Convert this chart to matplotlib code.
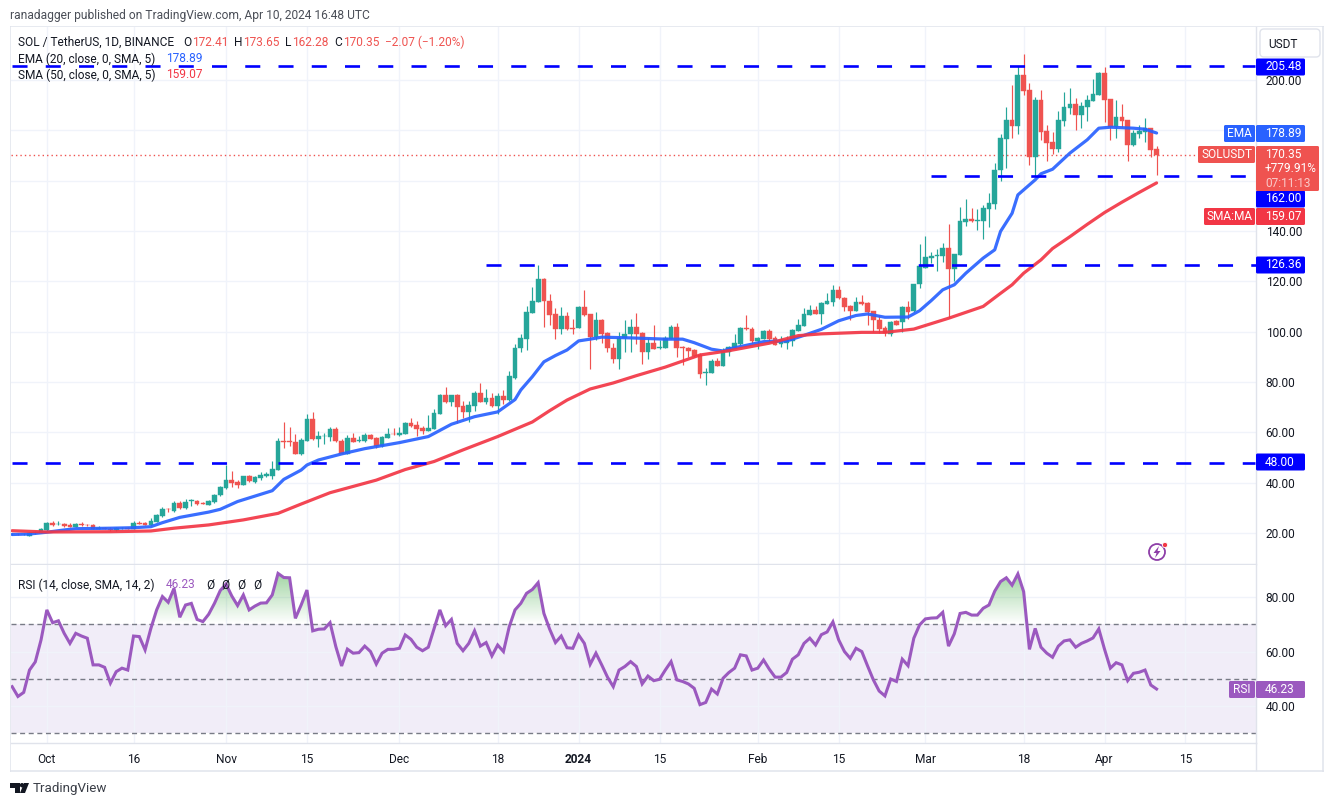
import numpy as np
import pandas as pd
import matplotlib
matplotlib.use('Agg')
import matplotlib.pyplot as plt
from matplotlib.patches import Rectangle, Circle, Polygon, PathPatch, FancyBboxPatch
from matplotlib.path import Path

plt.rcParams['font.family'] = ['Roboto', 'DejaVu Sans']

# Daily candles, Sep 25 2023 .. Apr 10 2024
OPEN = [19.5,19.7,19.4,19.0,19.9,20.1,21.1,24.0,23.4,23.6,
        23.2,22.5,23.5,23.2,23.0,21.6,21.9,21.7,21.0,21.8,
        21.9,21.7,24.0,24.0,23.1,24.5,26.8,29.7,28.7,31.8,
        29.9,32.7,32.7,31.9,31.1,32.3,35.1,37.9,41.1,40.3,
        39.1,42.7,40.4,42.0,42.7,42.7,45.0,56.4,56.4,56.0,
        51.4,56.6,65.3,57.4,58.5,58.3,61.3,56.6,51.5,57.6,
        56.4,56.6,59.0,57.8,54.6,57.9,59.5,59.1,59.5,63.7,
        62.9,61.7,60.5,61.3,67.4,74.9,72.1,74.9,70.3,68.1,
        70.5,75.7,72.1,73.7,70.5,74.4,72.7,81.5,93.4,97.2,
        107.3,111.9,120.7,112.3,106.8,101.2,106.0,101.4,101.3,109.9,
        106.8,98.0,104.8,99.6,93.6,89.0,97.5,99.1,102.0,99.6,
        91.7,95.5,93.4,93.6,97.2,102.0,94.0,93.6,92.8,90.6,
        83.4,83.7,88.5,86.5,91.7,93.6,95.2,101.4,101.2,96.4,
        97.2,100.4,97.5,95.1,95.4,96.4,100.4,102.4,106.4,108.7,
        106.8,111.1,111.9,116.7,113.5,110.3,108.3,111.9,111.5,108.3,
        104.8,101.6,99.2,104.4,104.0,109.9,108.2,118.9,125.3,129.3,
        130.1,130.1,133.3,124.9,130.5,143.6,144.8,144.0,144.0,148.8,
        150.7,164.3,176.6,184.1,181.8,202.0,196.1,169.4,192.1,179.8,
        175.4,172.6,183.7,188.9,190.5,186.1,189.3,191.7,194.1,202.8,
        192.5,181.4,185.3,184.1,174.2,178.6,179.4,181.0,172.41]
HIGH = [20.0,20.0,19.9,20.3,20.7,21.9,24.5,24.8,24.6,24.0,
        23.8,24.1,24.2,23.6,23.6,22.6,22.3,22.3,22.3,22.3,
        22.2,24.8,24.6,24.4,26.0,27.6,30.3,30.0,32.7,32.7,
        33.6,33.6,33.2,32.5,33.2,35.5,38.8,46.9,44.6,41.1,
        42.8,43.1,42.7,44.4,44.1,48.4,57.6,64.0,62.1,59.2,
        57.6,67.3,67.9,60.5,59.7,62.3,62.0,57.2,58.8,59.7,
        58.7,59.7,59.3,58.1,58.6,61.6,61.9,62.0,64.1,65.7,
        64.4,62.5,66.9,69.3,75.3,78.0,74.9,75.3,72.4,72.6,
        76.6,79.6,77.2,75.7,75.5,76.7,84.2,95.2,99.1,110.0,
        117.9,126.4,121.1,114.9,109.4,109.9,107.6,105.2,110.0,116.7,
        106.8,107.8,105.2,100.0,95.4,100.0,104.8,105.2,107.2,100.0,
        97.5,102.8,96.7,98.4,102.8,103.6,94.4,94.0,93.2,91.3,
        85.7,89.3,89.4,93.6,94.4,99.2,102.0,106.4,102.0,98.0,
        100.8,101.1,98.4,98.4,98.4,101.2,105.2,109.2,110.7,110.3,
        111.9,115.5,118.7,118.3,113.9,110.7,113.9,114.7,111.9,108.3,
        106.4,102.4,104.4,104.8,110.3,112.3,119.0,134.9,137.9,131.8,
        132.9,135.3,142.8,130.9,149.6,152.7,149.2,148.8,150.4,155.1,
        167.0,178.6,189.3,198.0,205.6,210.4,198.9,193.3,196.1,182.2,
        179.4,187.7,195.3,196.9,192.9,191.3,194.1,200.5,203.2,205.2,
        192.5,192.1,190.5,184.1,180.2,182.2,185.0,181.0,173.65]
LOW = [19.3,19.2,19.1,18.9,19.7,20.0,20.9,22.8,23.2,22.5,
       22.4,22.4,22.9,22.7,21.4,21.4,21.4,20.9,20.7,21.5,
       21.4,21.4,23.6,23.0,22.8,24.2,26.5,28.3,28.4,29.6,
       29.6,30.9,31.2,31.4,31.0,32.0,34.7,37.6,38.4,37.9,
       39.1,40.3,40.0,41.1,42.3,41.6,45.0,53.9,54.5,51.4,
       51.0,56.6,57.0,54.3,55.4,56.7,56.1,51.4,51.4,56.1,
       56.0,56.0,57.3,53.8,54.3,57.8,58.9,58.6,59.4,62.2,
       58.4,59.5,60.4,61.3,67.3,71.6,70.4,63.8,65.8,64.2,
       68.4,72.1,71.3,70.2,67.1,71.4,72.5,81.1,91.9,92.7,
       107.3,111.7,102.0,102.5,97.0,98.9,100.7,99.1,101.3,106.0,
       85.1,96.7,95.4,91.7,87.7,85.1,91.7,91.7,95.1,87.0,
       89.3,93.1,93.0,93.6,97.2,90.0,86.9,90.0,89.8,81.7,
       78.9,83.4,86.4,86.4,90.5,93.5,94.8,100.5,95.6,93.0,
       97.2,96.4,94.7,94.0,92.9,94.4,100.4,102.4,106.4,106.8,
       103.2,111.1,110.3,113.1,108.1,104.8,108.3,110.7,102.8,99.9,
       99.6,98.4,98.4,102.6,100.0,105.2,107.9,117.3,125.3,127.2,
       124.2,127.5,105.3,120.1,130.5,142.1,143.6,140.4,136.9,141.6,
       148.8,159.8,164.9,177.0,178.6,194.1,166.2,161.9,176.2,167.8,
       170.6,171.4,181.6,186.3,180.1,180.9,183.7,191.7,194.1,183.4,
       176.2,177.0,181.4,167.8,173.8,177.0,175.4,169.4,162.28]
CLOSE = [19.7,19.4,19.5,19.9,20.5,21.6,24.0,23.2,23.6,22.8,
         22.5,23.6,23.3,23.0,21.6,21.9,21.7,21.0,21.9,22.0,
         21.7,24.0,23.7,23.3,24.8,27.2,29.7,29.4,31.8,29.9,
         32.3,33.0,31.7,31.7,32.7,35.1,38.3,41.1,39.9,39.1,
         42.7,40.7,42.3,43.1,43.3,45.3,56.4,56.2,56.1,51.5,
         56.8,65.3,57.4,58.6,58.7,61.3,56.4,51.5,57.6,56.3,
         57.0,59.0,57.4,54.4,58.2,59.4,59.2,59.8,63.7,62.5,
         61.3,60.7,61.7,67.7,74.9,72.1,74.9,70.2,68.1,70.9,
         75.7,72.1,73.8,70.5,74.4,72.7,82.3,93.5,97.5,107.6,
         112.3,120.7,112.1,106.5,101.2,106.0,101.2,101.1,109.9,106.4,
         98.0,104.6,99.2,93.4,89.0,97.5,99.2,102.0,99.2,91.7,
         95.5,93.2,93.9,97.5,102.0,93.6,93.5,92.4,90.5,83.3,
         84.1,88.5,86.5,92.2,94.0,95.6,101.6,101.1,96.4,97.6,
         100.4,97.2,94.8,96.8,96.8,100.8,102.8,106.8,108.7,106.8,
         111.5,112.3,116.7,113.5,109.9,108.3,111.9,111.0,107.9,104.5,
         101.2,99.3,104.0,102.8,109.9,107.9,119.0,126.0,129.5,130.2,
         130.5,133.3,124.9,130.9,144.0,144.8,144.0,144.4,149.2,151.1,
         164.3,177.0,184.1,181.8,202.0,195.7,169.4,192.1,179.4,175.0,
         172.6,184.1,189.3,190.5,186.1,189.7,192.1,194.5,202.8,192.1,
         181.4,185.3,183.7,174.2,179.0,179.8,181.0,172.2,170.35]

# Moving averages, read at the bends of each curve (days from Oct 1 2023)
EMA_DAYS = [-6,-3,0,3,5,11,15,18,20,23,28,30,33,39,41,44,45,47,51,55,61,66,70,74,78,81,82,84,86,88,
            90,92,94,96,101,107,110,112,115,117,118,124,128,131,134,137,140,142,145,149,151,153,155,157,
            159,162,164,165,167,168,169,171,172,174,177,180,182,184,188,190,192]
EMA_VALUES = [19.4,19.6,20.3,21.2,21.7,21.9,22.1,22.5,24.1,26.2,28.3,29.4,32.5,36.8,41.3,45.0,47.0,49.0,
              51.4,53.5,55.9,58.3,63.2,66.2,68.1,73.0,76.8,82.1,88.0,90.5,92.7,96.3,97.0,97.8,97.5,97.0,
              97.0,95.6,93.0,92.3,93.1,96.0,96.3,98.5,100.9,104.3,106.4,107.0,105.7,105.8,108.3,112.3,
              116.6,118.6,123.2,129.2,132.5,139.8,147.0,154.3,156.3,160.3,162.7,164.5,170.9,176.2,180.8,
              181.2,180.8,180.4,178.89]
SMA_DAYS = [-6,0,11,18,22,28,34,40,44,49,57,62,67,72,78,84,87,90,94,98,102,107,113,118,125,130,134,141,
            145,150,156,162,165,167,169,172,174,177,180,183,186,189,192]
SMA_VALUES = [20.9,20.4,20.5,20.8,21.9,23.2,25.2,27.8,31.5,36.0,41.0,45.2,48.4,53.0,58.3,64.1,68.6,72.8,
              77.2,79.6,82.5,85.9,90.7,92.4,95.4,98.4,99.1,99.7,99.7,101.0,105.3,110.0,115.2,118.6,123.2,
              128.5,133.0,137.7,142.6,147.3,151.4,155.3,159.07]

RSI = [47.1,43.5,45.0,53.2,56.2,64.3,75.3,70.6,71.3,66.7,
       63.0,66.7,65.7,64.9,55.1,55.1,54.2,48.4,52.6,53.9,
       53.2,65.7,65.5,60.6,68.5,75.3,80.2,78.1,83.2,72.6,
       77.1,77.7,71.8,71.0,73.7,77.7,82.4,84.8,80.4,76.9,
       80.8,75.3,76.7,77.8,77.9,80.8,88.7,87.2,87.1,72.2,
       77.1,82.6,67.6,68.2,68.3,70.6,61.8,54.7,60.9,59.4,
       59.6,62.0,60.0,55.4,59.4,60.8,60.8,61.2,66.1,64.5,
       61.6,60.3,61.6,68.5,75.3,69.5,71.8,63.0,60.3,63.0,
       67.6,62.0,63.3,58.4,62.4,60.0,69.1,75.3,77.7,81.4,
       82.8,85.3,74.0,68.2,63.3,65.7,61.4,61.2,66.1,63.0,
       55.3,59.4,55.1,50.6,47.1,53.2,54.5,56.3,54.5,48.1,
       51.0,49.3,49.8,53.2,56.3,49.6,49.0,48.1,46.5,40.5,
       41.3,46.2,44.4,50.2,52.3,53.9,58.8,58.4,53.2,53.9,
       56.9,53.5,50.6,50.6,52.3,57.2,58.8,63.0,64.9,62.4,
       66.2,67.2,70.9,64.3,60.0,57.5,61.2,60.0,54.7,49.6,
       45.5,43.7,49.9,49.0,57.2,54.8,64.9,69.8,72.0,72.3,
       72.4,74.4,62.0,66.5,74.0,74.4,73.4,73.4,75.9,77.1,
       82.2,85.7,87.1,84.4,88.5,82.0,60.8,68.5,61.6,59.4,
       57.9,62.0,63.9,64.3,61.6,63.0,63.9,65.0,68.3,60.8,
       53.9,55.9,55.1,49.3,52.0,52.4,53.2,47.7,46.23]

LEVELS = [205.48, 162.00, 126.36, 48.00]
LEVEL_STARTS = ['2023-09-25', '2024-03-02', '2023-12-16', '2023-09-25']
LEVEL_ENDS = ['2024-04-27', '2024-04-27', '2024-04-29', '2024-04-27']

PRICE_TICKS = [20, 40, 60, 80, 100, 120, 140, 160, 180, 200]
HIDDEN_TICKS = [160, 180]  # covered by the price tags in the reference
RSI_TICKS = [40, 60, 80]
RSI_BANDS = [70, 50, 30]
DATE_TICKS = ['2023-10-01', '2023-10-16', '2023-11-01', '2023-11-15', '2023-12-01', '2023-12-18',
              '2024-01-01', '2024-01-15', '2024-02-01', '2024-02-15', '2024-03-01', '2024-03-18',
              '2024-04-01', '2024-04-15']
DATE_LABELS = ['Oct', '16', 'Nov', '15', 'Dec', '18', '2024', '15', 'Feb', '15', 'Mar', '18', 'Apr', '15']

GREEN = '#26A69A'
RED = '#EF5350'
BLUE = '#2962FF'
PINK = '#F23645'
PURPLE = '#9B59BF'
LINE_BLUE = '#0000FF'
GRID = '#F0F3FA'
BORDER = '#E0E3EB'
TEXT = '#131722'
SCALE_SIZE = 8.6
LEGEND_SIZE = 8.6

W, H = 1334, 806
ORIGIN = pd.Timestamp('2023-10-01')


def day(s):
    return (pd.Timestamp(s) - ORIGIN).days


def pane(x0, y0, x1, y1):
    # pane rectangle given in picture pixels, y down
    return [x0 / W, 1 - y1 / H, (x1 - x0) / W, (y1 - y0) / H]


fig = plt.figure(figsize=(W / 100, H / 100), dpi=100, facecolor='white')
ax = fig.add_axes(pane(11, 27, 1256, 564))
ax_rsi = fig.add_axes(pane(11, 565, 1256, 743))

dates = pd.date_range('2023-09-25', '2024-04-10')
x = np.array((dates - ORIGIN).days)
opens, highs, lows, closes = map(np.array, (OPEN, HIGH, LOW, CLOSE))
colors = [GREEN if c >= o else RED for o, c in zip(opens, closes)]
xlim = (-6.2, 209.2)
tick_x = [day(d) for d in DATE_TICKS]

# price pane
ax.vlines(x, lows, highs, colors=colors, linewidth=0.85, zorder=3)
ax.bar(x, np.abs(closes - opens), bottom=np.minimum(opens, closes), width=0.82, color=colors,
       edgecolor=colors, linewidth=0.3, zorder=3)
ax.plot(EMA_DAYS, EMA_VALUES, color=BLUE, lw=2.3, alpha=0.92, zorder=4, solid_capstyle='round')
ax.plot(SMA_DAYS, SMA_VALUES, color=PINK, lw=2.3, alpha=0.92, zorder=4, solid_capstyle='round')
ax.axhline(closes[-1], color=RED, lw=1, ls=(0, (1, 2.2)), zorder=2)
for level, start, end in zip(LEVELS, LEVEL_STARTS, LEVEL_ENDS):
    ax.plot([day(start), day(end)], [level, level], color=LINE_BLUE, lw=1.9,
            ls=(0, (5.7, 6.9)), dash_capstyle='butt', zorder=5)
ax.set_xlim(xlim)
ax.set_ylim(7.68, 221.0)
ax.set_yticks(PRICE_TICKS, ['' if v in HIDDEN_TICKS else f'{v:.2f}' for v in PRICE_TICKS])
ax.yaxis.tick_right()
ax.set_xticks(tick_x)
ax.tick_params(axis='x', length=0, labelbottom=False)
ax.tick_params(axis='y', length=0, pad=7, labelsize=SCALE_SIZE, labelcolor=TEXT)

# rsi pane
rsi = np.array(RSI)
ax_rsi.axhspan(RSI_BANDS[2], RSI_BANDS[0], color='#7E57C2', alpha=0.1, lw=0, zorder=0)
for band in RSI_BANDS:
    ax_rsi.axhline(band, color='#787B86', lw=1, ls=(0, (3.6, 2.6)), zorder=2)
over = ax_rsi.fill_between(x, rsi, RSI_BANDS[0], where=rsi > RSI_BANDS[0], interpolate=True, color='none')
grad = np.zeros((64, 2, 4))
grad[..., 0], grad[..., 1], grad[..., 2] = 76 / 255, 175 / 255, 80 / 255
grad[..., 3] = np.linspace(0, 0.5, 64)[:, None]
img = ax_rsi.imshow(grad, extent=[xlim[0], xlim[1], 70, 88], origin='lower', aspect='auto', zorder=1)
img.set_clip_path(PathPatch(Path.make_compound_path(*over.get_paths()), transform=ax_rsi.transData))
ax_rsi.plot(x, rsi, color=PURPLE, lw=2.2, zorder=4, solid_joinstyle='miter')
ax_rsi.set_xlim(xlim)
ax_rsi.set_ylim(26.4, 91.8)
ax_rsi.set_yticks(RSI_TICKS, [f'{v:.2f}' for v in RSI_TICKS])
ax_rsi.yaxis.tick_right()
ax_rsi.set_xticks(tick_x, DATE_LABELS)
ax_rsi.tick_params(axis='both', length=0, labelsize=SCALE_SIZE, labelcolor=TEXT)
ax_rsi.tick_params(axis='y', pad=7)
ax_rsi.tick_params(axis='x', pad=7.5)
ax_rsi.get_xticklabels()[6].set_fontweight('bold')

for a in (ax, ax_rsi):
    a.grid(True, color=GRID, lw=1)
    a.set_axisbelow(True)
    for side, sp in a.spines.items():
        sp.set_color(BORDER)
        sp.set_linewidth(1)
        sp.set_visible(side in ('bottom', 'right'))

# everything outside the data goes on a pixel overlay
ov = fig.add_axes([0, 0, 1, 1], facecolor='none', zorder=10)
ov.set_xlim(0, W)
ov.set_ylim(H, 0)
ov.axis('off')


def label(px, py, s, color=TEXT, size=LEGEND_SIZE, **kw):
    kw.setdefault('ha', 'left')
    kw.setdefault('va', 'center')
    ov.text(px, py, s, color=color, fontsize=size, **kw)


def box(x0, y0, x1, y1, color):
    ov.add_patch(FancyBboxPatch((x0 + 1, y0 + 1), x1 - x0 - 2, y1 - y0 - 2, boxstyle='round,pad=1,rounding_size=1.5',
                                fc=color, ec='none', zorder=3))


# widget frame
for rect in [(9.5, 26, 1.5, 746), (9.5, 770, 1314, 2), (1322, 26, 1.5, 746), (9.5, 26, 1314, 1.2)]:
    ov.add_patch(Rectangle(rect[:2], rect[2], rect[3], fc=BORDER, ec='none', alpha=0.75))
ov.plot([1256, 1256], [743, 770], color=BORDER, lw=1)

label(10, 15, 'ranadagger published on TradingView.com, Apr 10, 2024 16:48 UTC', color='#4A4E57', size=8.65)

# legend block
label(18, 42, 'SOL / TetherUS, 1D, BINANCE')
for px, s in [(183, 'O'), (234, 'H'), (285, 'L'), (334, 'C')]:
    label(px, 42, s)
for px, s in [(192, '172.41'), (243, '173.65'), (292, '162.28'), (343, '170.35'), (385, '\u22122.07 (\u22121.20%)')]:
    label(px, 42, s, color=RED)
label(18, 59, 'EMA (20, close, 0, SMA, 5)')
label(166, 59, '178.89', color=BLUE)
label(18, 75, 'SMA (50, close, 0, SMA, 5)')
label(166, 75, '159.07', color=PINK)
label(18, 585, 'RSI (14, close, SMA, 14, 2)')
label(166, 585, '46.23', color=PURPLE)
for px in (206, 221, 237, 253):
    label(px, 585, '\u00d8')

# USDT button
ov.add_patch(FancyBboxPatch((1262, 31), 56, 24, boxstyle='round,pad=2,rounding_size=4', fc='white', ec=BORDER, lw=1))
label(1283, 44, 'USDT', ha='center', size=SCALE_SIZE)

# price scale tags
for py, s in [(67, '205.48'), (199, '162.00'), (265, '126.36'), (462, '48.00')]:
    box(1256, py - 8.5, 1305, py + 8.5, LINE_BLUE)
    label(1265, py, s, color='white', size=SCALE_SIZE)
box(1224, 125, 1255, 142, BLUE)
label(1239.5, 133.5, 'EMA', color='white', ha='center', size=SCALE_SIZE)
box(1256, 125, 1305, 142, BLUE)
label(1265, 133.5, '178.89', color='white', size=SCALE_SIZE)
box(1198, 146, 1255, 163, RED)
label(1226.5, 154.5, 'SOLUSDT', color='white', ha='center', size=SCALE_SIZE)
box(1256, 146, 1319, 191, RED)
label(1265, 154, '170.35', color='white', size=SCALE_SIZE)
label(1265, 168.5, '+779.91%', color='white', size=SCALE_SIZE)
label(1265, 183.5, '07:11:13', color='#F9C9C8', size=SCALE_SIZE)
box(1204, 208, 1255, 225, PINK)
label(1229.5, 216.5, 'SMA:MA', color='white', ha='center', size=SCALE_SIZE)
box(1256, 208, 1305, 225, PINK)
label(1265, 216.5, '159.07', color='white', size=SCALE_SIZE)
box(1229, 681, 1255, 698, PURPLE)
label(1242, 689.5, 'RSI', color='white', ha='center', size=SCALE_SIZE)
box(1256, 681, 1305, 698, PURPLE)
label(1265, 689.5, '46.23', color='white', size=SCALE_SIZE)

# replay bolt icon
ov.add_patch(Circle((1157, 552), 8, fc='white', ec='#8E3FA8', lw=1.3))
ov.add_patch(Polygon([(1159, 546), (1153.5, 553), (1156.5, 553), (1155, 558), (1160.5, 551), (1157.5, 551)], fc='#8E3FA8', ec='none'))
ov.add_patch(Circle((1165, 545), 2.6, fc=PINK, ec='white', lw=0.6))

# footer logo
ov.add_patch(Polygon([(10, 783), (19.5, 783), (19.5, 793), (15, 793), (15, 787.5), (10, 787.5)], fc=TEXT, ec='none'))
ov.add_patch(Circle((22, 785.2), 2.2, fc=TEXT, ec='none'))
ov.add_patch(Polygon([(24, 783), (29, 783), (25, 793), (20, 793)], fc=TEXT, ec='none'))
label(33, 788.5, 'TradingView', color='#3A3E47', size=9.6)

fig.savefig('out.png', dpi=100)
